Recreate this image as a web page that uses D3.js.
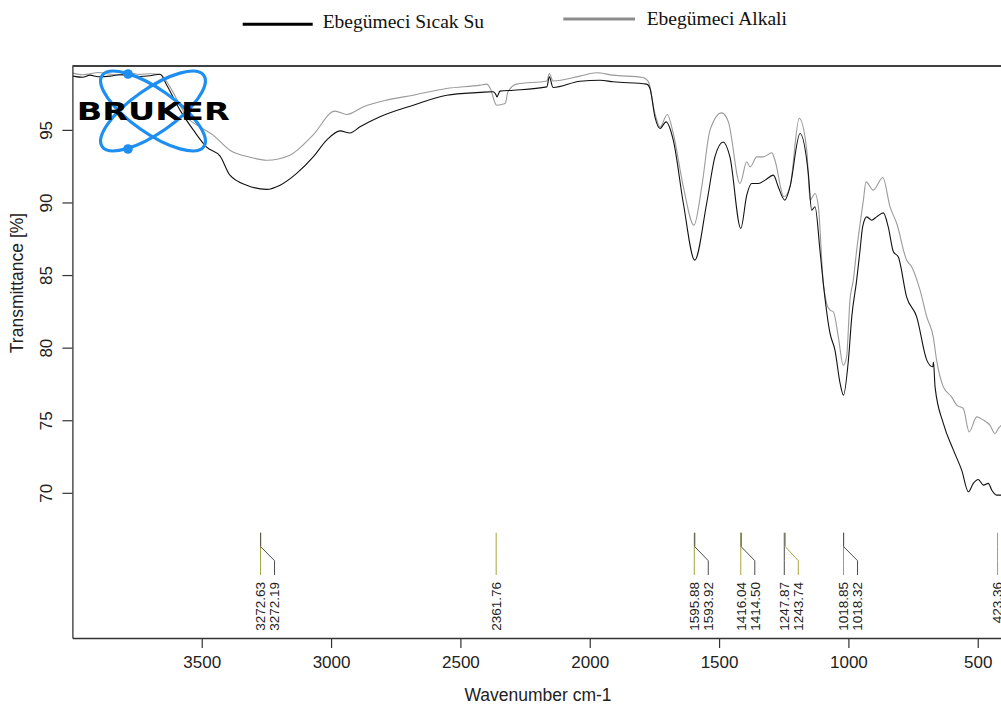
<!DOCTYPE html>
<html>
<head>
<meta charset="utf-8">
<script src="https://cdn.jsdelivr.net/npm/d3@7/dist/d3.min.js"></script>
<style>
  html, body { margin: 0; padding: 0; background: #fff; }
  svg { display: block; }
</style>
</head>
<body>
<svg id="chart" width="1001" height="708"></svg>
<script>
// FTIR spectra: wavenumber (cm-1) and transmittance (%)
const sicakWn = [3998,3960,3932,3900,3854,3820,3777,3740,3700,3661,3635,3584,3532,3481,3429,3391,3326,3249,3197,3133,3069,3017,2965,2927,2888,2811,2682,2553,2424,2374,2362,2359,2347,2295,2166,2156,2142,2038,1960,1909,1780,1767,1748,1728,1705,1677,1638,1594,1548,1516,1484,1458,1416,1393,1374,1348,1322,1290,1271,1246,1226,1187,1155,1142,1129,1110,1097,1071,1052,1032,1019,1000,987,968,955,945,929,910,891,865,846,826,807,775,736,697,674,671,665,633,594,562,536,517,498,478,459,446,427,402];
const sicakT  = [98.70,98.62,98.77,98.66,98.70,98.80,98.77,98.68,98.73,98.83,98.08,96.36,94.98,93.81,93.19,91.88,91.19,90.90,91.19,92.00,93.14,94.29,94.93,94.79,95.21,95.90,96.70,97.39,97.58,97.63,97.40,97.27,97.67,97.73,97.96,98.65,97.92,98.35,98.42,98.31,98.15,97.85,95.90,95.10,95.55,94.29,89.93,86.03,89.93,93.14,94.17,93.14,88.21,90.50,91.31,91.31,91.54,91.88,91.07,90.16,91.07,94.75,92.00,89.47,89.70,86.72,84.42,80.98,79.83,77.53,76.73,79.14,82.12,84.65,86.72,88.32,89.01,88.78,89.01,89.28,88.32,86.60,86.25,83.50,82.12,79.14,78.68,79.00,77.30,74.78,72.94,71.56,70.07,70.65,70.92,70.53,70.65,70.19,69.84,69.84];

const alkaliWn = [3998,3960,3932,3900,3854,3820,3777,3740,3700,3661,3623,3584,3558,3507,3456,3391,3313,3249,3159,3070,2985,2939,2876,2785,2683,2553,2424,2398,2385,2360,2327,2316,2282,2166,2156,2142,2038,1973,1910,1794,1773,1748,1728,1700,1677,1638,1597,1567,1535,1490,1464,1419,1393,1380,1354,1329,1296,1284,1249,1226,1190,1161,1148,1129,1116,1097,1084,1071,1058,1039,1020,1007,994,981,968,942,932,904,867,839,813,775,755,723,697,672,659,633,601,581,556,533,504,478,453,433,420,402];
const alkaliT  = [98.91,98.80,98.87,98.95,98.84,98.78,98.91,98.82,98.87,98.83,97.96,96.70,95.90,95.21,94.64,93.60,93.12,92.91,93.26,94.64,96.29,96.06,96.58,97.05,97.39,97.85,98.08,98.15,97.87,96.70,96.82,97.62,98.15,98.37,98.88,98.37,98.70,98.93,98.77,98.61,98.31,96.13,95.21,96.06,94.75,91.07,88.44,91.07,94.98,96.17,95.55,91.31,92.80,92.45,93.14,93.14,93.42,92.91,90.39,91.07,95.79,93.60,90.16,90.62,89.70,84.42,83.04,82.58,82.47,80.74,78.79,79.37,83.27,84.65,86.72,90.16,91.42,90.85,91.72,89.70,88.55,86.03,85.56,83.96,82.12,80.74,79.14,77.30,76.61,76.04,75.81,74.20,75.23,75.01,74.66,74.09,74.44,74.78];

// Peak picks (label text, owning series)
const peakLabels = ["3272.63","3272.19","2361.76","1595.88","1593.92","1416.04","1414.50","1247.87","1243.74","1018.85","1018.32","423.36"];
const peakSeries = ["a","s","a","a","s","a","s","s","a","a","s","a"];
// peaks sharing a leader with the previous one are pushed to the right
const peakShifted = [false,true,false,false,true,false,true,false,true,false,true,false];

const xTicks = [3500,3000,2500,2000,1500,1000,500];
const yTicks = [70,75,80,85,90,95];

const seriesNames = ["Ebegümeci Sıcak Su","Ebegümeci Alkali"];

(function () {
  const svg = d3.select("#chart");
  const pL = 72.4, pR = 1003.6, pT = 66, pB = 638;

  const x = d3.scaleLinear().domain([4000, 400]).range([pL, pR]);
  const y = d3.scaleLinear().domain([60, 99.4]).range([pB, pT]);

  svg.append("defs").append("clipPath").attr("id", "plotClip")
    .append("rect").attr("x", pL).attr("y", pT).attr("width", pR - pL).attr("height", pB - pT);

  // spectra
  const line = d3.line().x(d => x(d[0])).y(d => y(d[1])).curve(d3.curveMonotoneX);
  const plot = svg.append("g").attr("clip-path", "url(#plotClip)");
  plot.append("path")
    .datum(alkaliWn.map((w, i) => [w, alkaliT[i]]))
    .attr("d", line).attr("fill", "none").attr("stroke", "#9a9a9a").attr("stroke-width", 1.1);
  plot.append("path")
    .datum(sicakWn.map((w, i) => [w, sicakT[i]]))
    .attr("d", line).attr("fill", "none").attr("stroke", "#111").attr("stroke-width", 1.1);

  // peak markers with leader lines
  const peakColor = { a: "#a5a53c", s: "#4d4d4d" };
  const stemTop = 532.7, kneeTop = 546.7, kneeBottom = 560.7, stemBottom = 575;
  const peaks = svg.append("g");
  let lastX = null;
  peakLabels.forEach((lab, i) => {
    const xp = x(+lab);
    const xl = peakShifted[i] ? lastX + 14 : xp;
    lastX = xl;
    peaks.append("path")
      .attr("d", `M${xp},${stemTop}L${xp},${kneeTop}L${xl},${kneeBottom}L${xl},${stemBottom}`)
      .attr("fill", "none").attr("stroke", peakColor[peakSeries[i]]).attr("stroke-width", 1);
    peaks.append("text")
      .attr("transform", `translate(${xl},${582}) rotate(-90)`)
      .attr("text-anchor", "end").attr("dy", "0.36em")
      .attr("font-family", "Liberation Sans, Arial, sans-serif")
      .attr("font-size", 13.5).attr("fill", "#222")
      .text(lab);
  });

  // frame
  svg.append("line").attr("x1", pL).attr("x2", 1001).attr("y1", pT).attr("y2", pT)
    .attr("stroke", "#000").attr("stroke-width", 1.6);

  // x axis
  const xAxis = svg.append("g").attr("transform", `translate(0,${pB})`)
    .call(d3.axisBottom(x).tickValues(xTicks).tickSize(10).tickSizeOuter(0).tickPadding(8).tickFormat(d3.format("d")));
  xAxis.select(".domain").attr("stroke", "#333").attr("stroke-width", 1.3);
  xAxis.selectAll(".tick line").attr("stroke", "#333").attr("stroke-width", 1.2);
  xAxis.selectAll(".tick text").attr("font-family", "Liberation Sans, Arial, sans-serif")
    .attr("font-size", 17).attr("fill", "#222");

  // y axis
  const yAxis = svg.append("g").attr("transform", `translate(${pL},0)`)
    .call(d3.axisLeft(y).tickValues(yTicks).tickSize(10).tickSizeOuter(0).tickFormat(d3.format("d")));
  yAxis.select(".domain").attr("stroke", "#333").attr("stroke-width", 1.3);
  yAxis.selectAll(".tick line").attr("stroke", "#333").attr("stroke-width", 1.2);
  yAxis.selectAll(".tick text")
    .attr("x", null).attr("dy", null)
    .attr("transform", `translate(-20,0) rotate(-90)`)
    .attr("text-anchor", "middle")
    .attr("font-family", "Liberation Sans, Arial, sans-serif")
    .attr("font-size", 17).attr("fill", "#222");

  // axis titles
  svg.append("text").attr("x", 538).attr("y", 701).attr("text-anchor", "middle")
    .attr("font-family", "Liberation Sans, Arial, sans-serif").attr("font-size", 17.5).attr("fill", "#222")
    .text("Wavenumber cm-1");
  svg.append("text").attr("transform", "translate(23,283) rotate(-90)").attr("text-anchor", "middle")
    .attr("font-family", "Liberation Sans, Arial, sans-serif").attr("font-size", 17.5).attr("fill", "#222")
    .text("Transmittance [%]");

  // legend
  const legend = svg.append("g");
  legend.append("line").attr("x1", 242.7).attr("x2", 312.7).attr("y1", 24.3).attr("y2", 24.3)
    .attr("stroke", "#000").attr("stroke-width", 3);
  legend.append("text").attr("x", 322.7).attr("y", 28.3)
    .attr("font-family", "Liberation Serif, Times New Roman, serif").attr("font-size", 19.5).attr("fill", "#111")
    .text(seriesNames[0]);
  legend.append("line").attr("x1", 563.3).attr("x2", 635).attr("y1", 19).attr("y2", 19)
    .attr("stroke", "#8c8c8c").attr("stroke-width", 3);
  legend.append("text").attr("x", 646.7).attr("y", 24.5)
    .attr("font-family", "Liberation Serif, Times New Roman, serif").attr("font-size", 19.5).attr("fill", "#111")
    .text(seriesNames[1]);

  // vendor logo
  const logo = svg.append("g").attr("transform", "translate(153,111)");
  const blue = "#1e8ef0";
  logo.append("ellipse").attr("rx", 62).attr("ry", 22).attr("transform", "rotate(35)")
    .attr("fill", "none").attr("stroke", blue).attr("stroke-width", 3.2);
  logo.append("ellipse").attr("rx", 62).attr("ry", 22).attr("transform", "rotate(-35)")
    .attr("fill", "none").attr("stroke", blue).attr("stroke-width", 3.2);
  logo.append("circle").attr("cx", -25).attr("cy", -37).attr("r", 4.8).attr("fill", blue);
  logo.append("circle").attr("cx", -25).attr("cy", 38).attr("r", 4.8).attr("fill", blue);
  logo.append("text").attr("x", -76.3).attr("y", 9)
    .attr("font-family", "DejaVu Sans, Arial, sans-serif").attr("font-weight", "bold")
    .attr("font-size", 25).attr("textLength", 153).attr("lengthAdjust", "spacingAndGlyphs")
    .attr("fill", "#000").text("BRUKER");
})();
</script>
</body>
</html>
